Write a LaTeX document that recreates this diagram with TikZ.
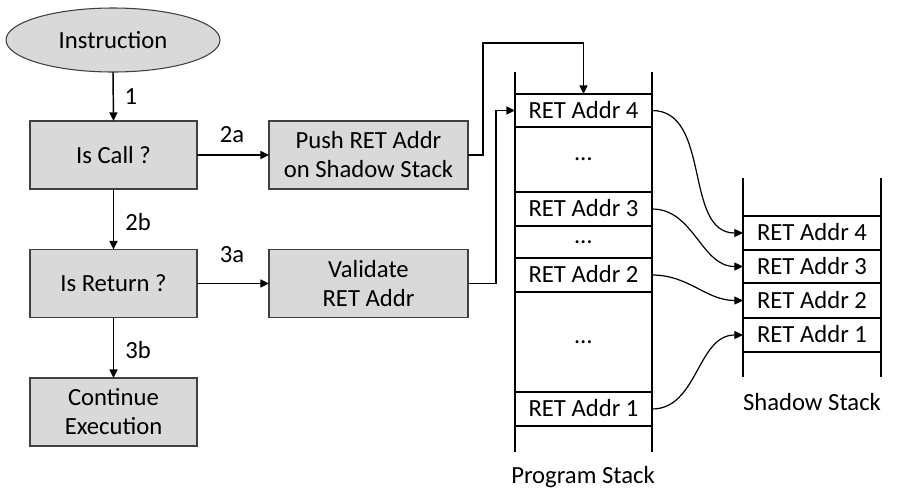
\documentclass[tikz,border=0pt]{standalone}
\usepackage{fontspec}
\setmainfont{Carlito}
\usetikzlibrary{arrows.meta,shapes.geometric}
\definecolor{boxfill}{HTML}{D9D9D9}
\definecolor{boxline}{HTML}{404040}
\begin{document}
\begin{tikzpicture}[x=0.75pt,y=-0.75pt,
  every node/.style={font=\fontsize{18.5}{21.75}\selectfont, inner sep=0pt, outer sep=0pt},
  flowbox/.style={draw=boxline, line width=0.8pt, fill=boxfill, minimum width=125.25pt, minimum height=51pt, align=center},
  widebox/.style={flowbox, minimum width=149.25pt},
  slot/.style={draw=black, line width=1pt, minimum width=102.75pt, text height=11.8pt, text depth=0pt},
  wall/.style={line width=2.2pt},
  link/.style={line width=1.1pt, -{Triangle[length=6.5pt,width=6pt]}},
  curvelink/.style={line width=0.9pt, -{Triangle[length=6.5pt,width=6pt]}},
  steplabel/.style={anchor=center}
]
\useasboundingbox (0,0) rectangle (897,490);

% flowchart
\node[ellipse, draw=boxline, line width=0.8pt, fill=boxfill, minimum width=160.5pt, minimum height=48pt] (inst) at (113,40) {Instruction};
\node[flowbox] (iscall) at (113.5,155) {Is Call ?};
\node[widebox] (push) at (368.5,155) {Push RET Addr\\on Shadow Stack};
\node[flowbox] (isret) at (113.5,283.5) {Is Return ?};
\node[widebox] (valid) at (368.5,283.5) {Validate\\RET Addr};
\node[flowbox] (cont) at (113.5,412) {Continue\\Execution};

\draw[link] (inst.south) -- (iscall.north);
\draw[link] (iscall.east) -- (push.west);
\draw[link] (iscall.south) -- (isret.north);
\draw[link] (isret.east) -- (valid.west);
\draw[link] (isret.south) -- (cont.north);

\node[steplabel] (l1) at (131,97) {1};
\node[steplabel] (l2a) at (232,135) {2a};
\node[steplabel] (l2b) at (138,222) {2b};
\node[steplabel] (l3a) at (232,255) {3a};
\node[steplabel] (l3b) at (138,350) {3b};

% program stack
\node[slot, minimum height=24.75pt] (ps4) at (583.5,110.5) {RET Addr 4};
\node[slot, minimum height=25.5pt] (ps3) at (583.5,209) {RET Addr 3};
\node[slot, minimum height=25.5pt] (ps2) at (583.5,275) {RET Addr 2};
\node[slot, minimum height=25.5pt] (ps1) at (583.5,409) {RET Addr 1};
\node[anchor=base] (pd1) at (583.5,160.5) {…};
\node[anchor=base] (pd2) at (583.5,243.5) {…};
\node[anchor=base] (pd3) at (583.5,343.5) {…};
\draw[wall] (515,72) -- (515,452);
\draw[wall] (652,72) -- (652,452);
\node (pslabel) at (583,477) {Program Stack};

% shadow stack
\node[slot, minimum height=25.5pt, minimum width=103.5pt] (ss4) at (812,233) {RET Addr 4};
\node[slot, minimum height=24.75pt, minimum width=103.5pt] (ss3) at (812,266.5) {RET Addr 3};
\node[slot, minimum height=26.25pt, minimum width=103.5pt] (ss2) at (812,300.5) {RET Addr 2};
\node[slot, minimum height=25.5pt, minimum width=103.5pt] (ss1) at (812,335) {RET Addr 1};
\draw[wall] (743,178) -- (743,377);
\draw[wall] (881,178) -- (881,377);
\node (sslabel) at (812,402) {Shadow Stack};

% links into the stacks
\coordinate (pushbend) at (483,155);
\coordinate (pushtop) at (483,43);
\draw[link] (push.east) -- (pushbend) -- (pushtop) -| (ps4.north);
\coordinate (validbend) at (496,283.5);
\draw[link] (valid.east) -- (validbend) |- (ps4.west);

\draw[curvelink] (ps4.east) to[out=0,in=180] (ss4.west);
\draw[curvelink] (ps3.east) to[out=0,in=180] (ss3.west);
\draw[curvelink] (ps2.east) to[out=0,in=180] (ss2.west);
\draw[curvelink] (ps1.east) to[out=0,in=180] (ss1.west);
\end{tikzpicture}
\end{document}
